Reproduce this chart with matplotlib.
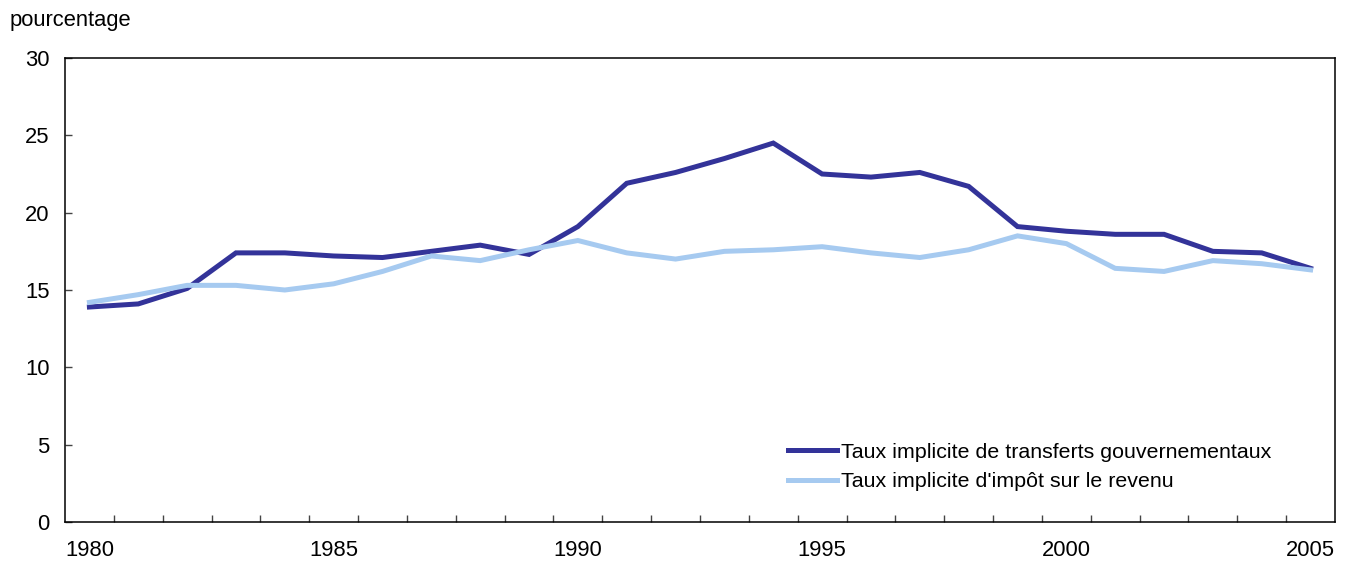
import matplotlib
matplotlib.use("Agg")
import matplotlib.pyplot as plt
from matplotlib.ticker import FixedLocator

plt.rcParams['font.family'] = ['Liberation Sans', 'DejaVu Sans']

years = list(range(1980, 2006))
transferts = [13.9, 14.1, 15.1, 17.4, 17.4, 17.2, 17.1, 17.5, 17.9, 17.3,
              19.1, 21.9, 22.6, 23.5, 24.5, 22.5, 22.3, 22.6, 21.7, 19.1,
              18.8, 18.6, 18.6, 17.5, 17.4, 16.4]
impot = [14.2, 14.7, 15.3, 15.3, 15.0, 15.4, 16.2, 17.2, 16.9, 17.6,
         18.2, 17.4, 17.0, 17.5, 17.6, 17.8, 17.4, 17.1, 17.6, 18.5,
         18.0, 16.4, 16.2, 16.9, 16.7, 16.3]
label_transferts = "Taux implicite de transferts gouvernementaux"
label_impot = "Taux implicite d'impôt sur le revenu"
y_ticks = [0, 5, 10, 15, 20, 25, 30]
x_label_years = [1980, 1985, 1990, 1995, 2000, 2005]

FS = 15.8
LFS = 15.4

fig = plt.figure(figsize=(13.48, 5.63), dpi=100)
ax = fig.add_axes([65/1348, 1-522/563, (1335-65)/1348, (522-58)/563])

ax.plot(years, transferts, color='#333399', lw=3.6, label=label_transferts,
        solid_joinstyle='miter')
ax.plot(years, impot, color='#a6caf0', lw=3.6, label=label_impot,
        solid_joinstyle='miter')

ax.set_xlim(1979.5, 2005.5)
ax.set_ylim(0, 30)
ax.set_yticks(y_ticks)
ax.set_xticks(x_label_years)
ax.tick_params(axis='x', which='major', length=0, pad=13, labelsize=FS)
ax.xaxis.set_minor_locator(FixedLocator([y + 0.5 for y in years[:-1]]))
ax.tick_params(axis='x', which='minor', direction='in', length=5, width=1, color='#444444')
ax.tick_params(axis='y', direction='in', length=5, width=1, pad=11, labelsize=FS,
               color='#444444')
for s in ax.spines.values():
    s.set_linewidth(1.1)
    s.set_color('black')

fig.text(10/1348, 1-26/563, "pourcentage", fontsize=FS, ha='left', va='baseline')

leg = ax.legend(loc='lower left', bbox_to_anchor=((779-65)/1270, (522-500)/464),
                frameon=False, fontsize=LFS, handlelength=2.3, handletextpad=0.2,
                labelspacing=0.5, borderaxespad=0)

fig.savefig("out.png", dpi=100)
